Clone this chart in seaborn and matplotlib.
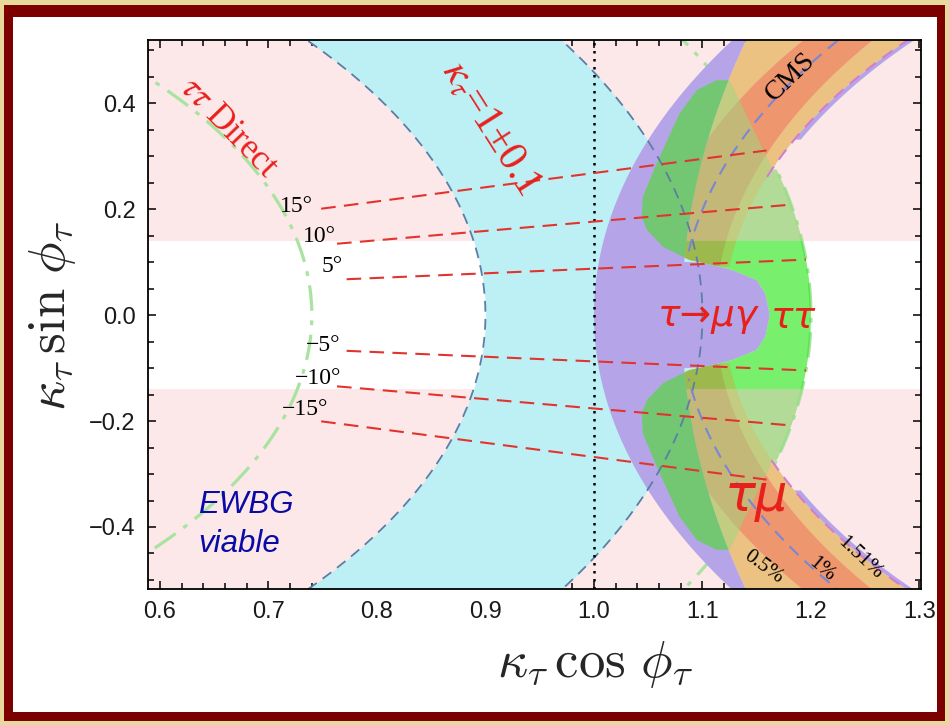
import numpy as np
import pandas as pd
import matplotlib
matplotlib.use("Agg")
import matplotlib.pyplot as plt
from matplotlib.patches import Rectangle, Polygon
import seaborn as sns

sns.set_theme(style="ticks")
plt.rcParams["font.family"] = ["Liberation Sans", "DejaVu Sans"]

# ---- plot window in the (kappa cos phi, kappa sin phi) plane ----
x_lim = [0.589, 1.3014]
y_lim = [-0.517, 0.519]
x_ticks = [0.6, 0.7, 0.8, 0.9, 1.0, 1.1, 1.2, 1.3]
y_ticks = [-0.4, -0.2, 0.0, 0.2, 0.4]

# ---- constraints ----
ewbg_edge = 0.14            # |kappa sin phi| beyond which the band is shaded
kappa_ring = [0.9, 1.1]     # kappa_tau = 1 +- 0.1
direct_ring = [0.74, 1.2]   # tau tau direct bound
ray_deg = [15, 10, 5, -5, -10, -15]
ray_text = ["15°", "10°", "5°", "−5°", "−10°", "−15°"]
ray_span = [0.775, 1.2]

# arcs x = c - sqrt(R^2 - y^2), given as [c, R]
mueg_inner = [2.119, 1.119]   # tau -> mu gamma, inner edge
mueg_core = 0.1               # |y| below which that region bulges out
br_low = [3.381, 2.3]         # BR(h->tau mu) = 0.5 %
br_mid = [2.08, 1.0]          # 1 %
br_high = [2.0, 0.88]         # 1.51 %
br_core = 0.032

# left edge of the tau tau allowed region (upper half, mirrored below)
tt_edge_y = [0.0, 0.04, 0.066, 0.085, 0.091, 0.104, 0.128, 0.16, 0.185,
             0.223, 0.287, 0.381, 0.425, 0.443]
tt_edge_x = [1.162, 1.158, 1.150, 1.127, 1.116, 1.088, 1.064, 1.049, 1.044,
             1.045, 1.058, 1.079, 1.095, 1.113]
tt_corner_x = [1.125, 1.165]
tt_corner_y = [0.443, 0.274]

W, H = 949, 725
fig = plt.figure(figsize=(W / 100, H / 100), dpi=100, facecolor="#E8D89B")


def frame_rect(x0, y0, x1, y1, color):
    fig.patches.append(Rectangle((x0 / W, 1 - y1 / H), (x1 - x0) / W, (y1 - y0) / H,
                                 transform=fig.transFigure, figure=fig,
                                 facecolor=color, edgecolor="none", zorder=-2))


frame_rect(4, 5, 945, 721, "#7D0000")
frame_rect(13, 17, 937, 712, "white")

ax = fig.add_axes([148 / W, 1 - 589 / H, (921 - 148) / W, (589 - 40) / H])
ax.set_zorder(1)
ax.set_facecolor("white")
ax.set_xlim(*x_lim)
ax.set_ylim(*y_lim)

yy = np.linspace(-0.53, 0.53, 800)
ay = np.abs(yy)


def arc(p, y):
    return p[0] - np.sqrt(p[1] ** 2 - y ** 2)


# shaded EWBG band
ax.axhspan(ewbg_edge, 1, color="#FCE8E9", lw=0, zorder=0.5)
ax.axhspan(-1, -ewbg_edge, color="#FCE8E9", lw=0, zorder=0.5)

# kappa = 1 +- 0.1 ring
ax.fill_betweenx(yy, np.sqrt(kappa_ring[0] ** 2 - yy ** 2),
                 np.sqrt(kappa_ring[1] ** 2 - yy ** 2),
                 color="#BDF0F5", lw=0, zorder=1)

# direct tau tau rings
for r in direct_ring:
    t = np.linspace(-0.8, 0.8, 300)
    sns.lineplot(x=r * np.cos(t), y=r * np.sin(t), sort=False, estimator=None,
                 color="#A9E3A0", lw=2.3, linestyle=(0, (8, 3, 1.5, 3)), ax=ax,
                 zorder=1.5)

# curves shared by several regions
x_in = arc(mueg_inner, yy)
x_lo = arc(br_low, yy)
x_hi = arc(br_high, yy)
g_left = np.interp(ay, tt_edge_y, tt_edge_x, right=0.0)

# CMS tau mu band (light outer part, darker core around 1 %)
mask = ay > 0.09
lo = np.maximum(x_lo, g_left)
hi = x_hi
mid = arc(br_mid, yy)
c_lo = np.clip(mid - br_core, lo, hi)
c_hi = np.clip(mid + br_core, lo, hi)


def draw_band(alpha, z):
    kw = dict(lw=0, alpha=alpha, zorder=z)
    ax.fill_betweenx(yy, lo, c_lo, where=mask & (c_lo > lo), color="#ECC283", **kw)
    ax.fill_betweenx(yy, c_hi, hi, where=mask & (hi > c_hi), color="#ECC283", **kw)
    ax.fill_betweenx(yy, c_lo, c_hi, where=mask & (c_hi > c_lo), color="#EE966E", **kw)


draw_band(1.0, 1.7)

# tau tau allowed region outline
t0 = np.arctan2(tt_corner_y[1], tt_corner_x[1])
ta = np.linspace(t0, 0, 40)
up_x = list(tt_edge_x) + tt_corner_x + list(direct_ring[1] * np.cos(ta))
up_y = list(tt_edge_y) + tt_corner_y + list(direct_ring[1] * np.sin(ta))
gx = up_x + up_x[::-1]
gy = up_y + [-v for v in up_y[::-1]]

# tau tau region on the open background, paler inside the EWBG band
green_a = ax.fill(gx, gy, color="#30E821", alpha=0.65, lw=0, zorder=1.8)[0]
for lo_y, hi_y in [(ewbg_edge, 1), (-1, -ewbg_edge)]:
    sh = ax.axhspan(lo_y, hi_y, color="#F9CDD0", alpha=0.45, lw=0, zorder=1.9)
    sh.set_clip_path(green_a)

# tau -> mu gamma region
p_right = np.maximum(x_lo, np.where(ay < mueg_core, g_left, 0.0))
purple = Polygon(np.column_stack([np.concatenate([x_in, p_right[::-1]]),
                                  np.concatenate([yy, yy[::-1]])]),
                 closed=True, facecolor="#B5A5E8", edgecolor="none", zorder=2)
ax.add_patch(purple)
ax.fill_betweenx(yy, x_hi, x_hi + 0.006, where=ay > 0.33, color="#B5A5E8",
                 lw=0, zorder=2)

# tau tau region where it overlaps tau -> mu gamma
green_b = ax.fill(gx, gy, color="#47DF25", alpha=0.6, lw=0, zorder=2.6)[0]
green_b.set_clip_path(purple)

# band tint showing through the tau tau region
draw_band(0.35, 3)

# ring boundaries
for r in kappa_ring:
    t = np.linspace(-0.9, 0.9, 300)
    ax.plot(r * np.cos(t), r * np.sin(t), color="#5A7EA6", lw=1.3,
            ls=(0, (6, 4)), zorder=4)
ym = yy[ay > 0.12]
for s in (1, -1):
    ys = ym[ym * s > 0]
    ax.plot(arc(br_mid, ys), ys, color="#7A86D6", lw=1.5, ls=(0, (6, 4)), zorder=4)
    ys2 = ys[np.abs(ys) > 0.26]
    ax.plot(arc(br_high, ys2), ys2, color="#D47CD2", lw=1.5, ls=(0, (6, 4)), zorder=4)

ax.axvline(1.0, color="black", lw=1.8, ls=(0, (1, 2.2)), zorder=5)

# fixed-phase rays
rows = []
for d in ray_deg:
    for r in ray_span:
        rows.append({"deg": d, "kx": r * np.cos(np.radians(d)),
                     "ky": r * np.sin(np.radians(d))})
rays = pd.DataFrame(rows)
sns.lineplot(data=rays, x="kx", y="ky", units="deg", estimator=None, sort=False,
             color="#E2342F", lw=1.5, linestyle=(0, (7, 4)), ax=ax, zorder=6)

ray_lx = [0.726, 0.747, 0.759, 0.750, 0.746, 0.734]
ray_ly = [0.204, 0.149, 0.091, -0.058, -0.119, -0.179]
for s, lx, ly in zip(ray_text, ray_lx, ray_ly):
    ax.text(lx, ly, s, fontsize=17, family="Liberation Serif", color="black",
            ha="center", va="center", zorder=7)

red = "#E8201C"
ax.text(0.663, 0.353, r"$\tau\tau$ Direct", fontsize=25, color=red,
        family="Liberation Serif", math_fontfamily="stix", rotation=-46,
        rotation_mode="anchor", ha="center", va="center", zorder=7)
ax.text(0.905, 0.353, r"$\kappa_\tau$=1±0.1", fontsize=30, color=red,
        family="Liberation Serif", math_fontfamily="stix", rotation=-57.7,
        rotation_mode="anchor", ha="center", va="center", zorder=7)
ax.text(1.181, 0.449, "CMS", fontsize=20, color="black", family="Liberation Serif",
        rotation=44, rotation_mode="anchor", ha="center", va="center", zorder=7)
ax.text(1.105, -0.002, "τ→μγ", fontsize=27, color=red, family="DejaVu Sans",
        style="italic", ha="center", va="center", zorder=7)
ax.text(1.184, -0.006, "ττ", fontsize=27, color=red, family="DejaVu Sans",
        style="italic", ha="center", va="center", zorder=7)
ax.text(1.150, -0.343, "τμ", fontsize=37, color=red, family="DejaVu Sans",
        style="italic", ha="center", va="center", zorder=7)
for s, lx, ly, rot in [("0.5%", 1.156, -0.475, -36), ("1%", 1.210, -0.481, -40),
                       ("1.51%", 1.245, -0.458, -43)]:
    ax.text(lx, ly, s, fontsize=15, color="black", family="Liberation Serif",
            rotation=rot, rotation_mode="anchor", ha="center", va="center",
            zorder=7)
ax.text(0.635, -0.358, "EWBG", fontsize=22.5, color="#0A0AA6", style="italic",
        ha="left", va="center", zorder=7)
ax.text(0.635, -0.432, "viable", fontsize=22.5, color="#0A0AA6", style="italic",
        ha="left", va="center", zorder=7)

# axes decoration
ax.set_xticks(x_ticks)
ax.set_xticklabels([f"{v:.1f}" for v in x_ticks])
ax.set_xticks(np.round(np.arange(30, 66) * 0.02, 2), minor=True)
ax.set_yticks(y_ticks)
ax.set_yticklabels([f"{v:.1f}".replace("-", "−") for v in y_ticks])
ax.set_yticks(np.round(np.arange(-10, 11) * 0.05, 2), minor=True)
ax.tick_params(which="both", direction="in", top=True, right=True, color="black",
               width=1.1, labelsize=17, labelcolor="#1A1A1A")
ax.tick_params(which="major", length=6, pad=9)
ax.tick_params(which="minor", length=4)
for sp in ax.spines.values():
    sp.set_color("black")
    sp.set_linewidth(1.3)
    sp.set_zorder(8)
ax.set_xlabel("")
ax.set_ylabel("")

fig.text(595 / W, 1 - 665 / H, r"$\kappa_\tau\,\cos\,\phi_\tau$", fontsize=38,
         math_fontfamily="cm", ha="center", va="center")
fig.text(52 / W, 1 - 316 / H, r"$\kappa_\tau\,\sin\,\phi_\tau$", fontsize=38,
         math_fontfamily="cm", ha="center", va="center", rotation=90)

fig.savefig("out.png", dpi=100, facecolor=fig.get_facecolor())
